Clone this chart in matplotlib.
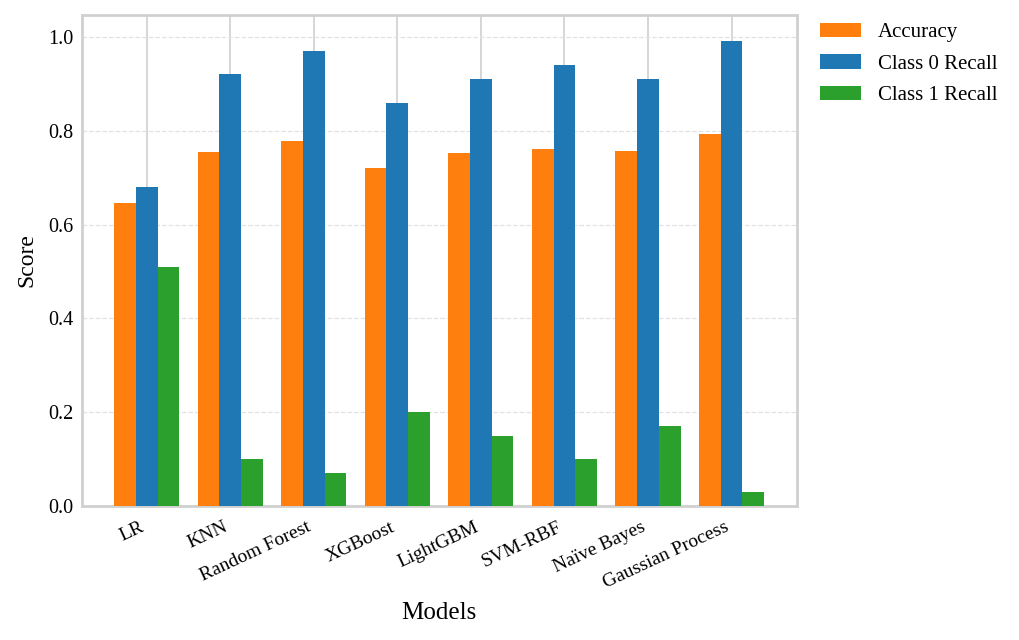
import numpy as np
import matplotlib
matplotlib.use("Agg")
import matplotlib.pyplot as plt

models = ['LR', 'KNN', 'Random Forest', 'XGBoost', 'LightGBM', 'SVM-RBF',
          'Naïve Bayes', 'Gaussian Process']
accuracy = [0.645, 0.754, 0.779, 0.720, 0.752, 0.762, 0.756, 0.792]
class0_recall = [0.68, 0.92, 0.97, 0.86, 0.91, 0.94, 0.91, 0.99]
class1_recall = [0.51, 0.10, 0.07, 0.20, 0.15, 0.10, 0.17, 0.03]

plt.rcParams['font.family'] = ['Liberation Serif', 'DejaVu Serif']

fig = plt.figure(figsize=(10.2, 6.4), dpi=100)
ax = fig.add_axes([0.080, 0.209, 0.701, 0.768])

x = np.arange(len(models))
w = 0.26
ax.bar(x - w, accuracy, w, color='#ff7f0e', label='Accuracy', zorder=3)
ax.bar(x, class0_recall, w, color='#1f77b4', label='Class 0 Recall', zorder=3)
ax.bar(x + w, class1_recall, w, color='#2ca02c', label='Class 1 Recall', zorder=3)

ax.set_ylim(0, 1.047)
ax.set_xticks(x)
ax.set_xticklabels(models, rotation=25, ha='right', fontsize=14)
ax.tick_params(axis='y', labelsize=14.5, length=0, pad=6)
ax.tick_params(axis='x', length=0, pad=9)

# vertical grid solid, horizontal grid dashed
ax.grid(axis='x', color='#d3d3d3', linewidth=1.3, linestyle='-', zorder=0)
ax.grid(axis='y', color='#e2e2e2', linewidth=0.9, linestyle='--', zorder=0)

for s in ax.spines.values():
    s.set_color('#d0d0d0')
    s.set_linewidth(2)

ax.set_xlabel('Models', fontsize=18, labelpad=7)
ax.set_ylabel('Score', fontsize=17, labelpad=8)

ax.legend(loc='upper left', bbox_to_anchor=(1.006, 1.022), frameon=False,
          fontsize=15, handlelength=2.0, handletextpad=0.8,
          labelspacing=0.57)

fig.savefig('out.png', dpi=100)
